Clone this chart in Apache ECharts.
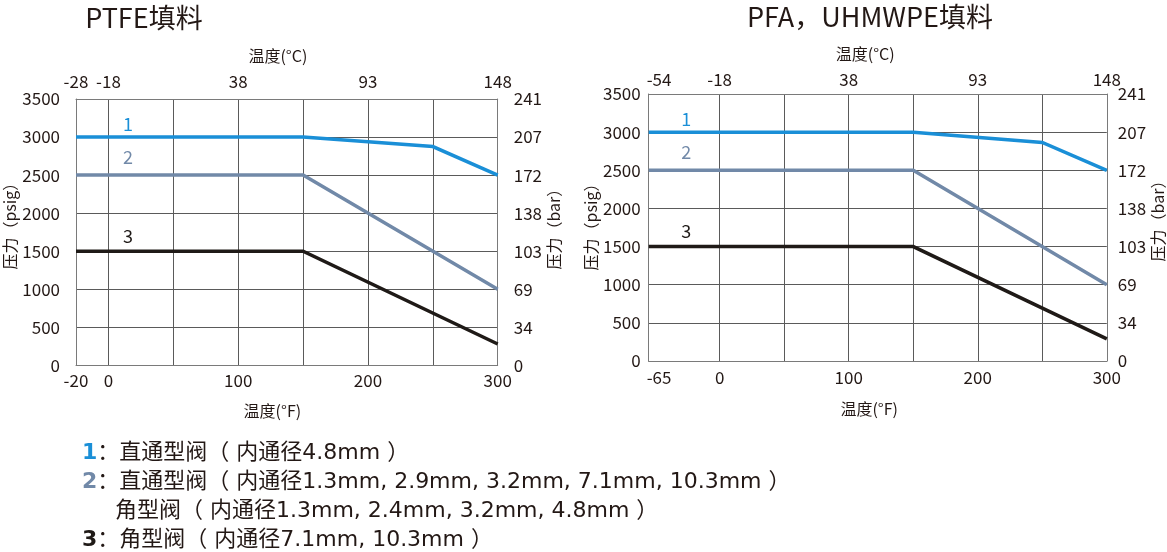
<!DOCTYPE html>
<html><head><meta charset="utf-8">
<script src="https://cdn.jsdelivr.net/npm/echarts@6/dist/echarts.min.js"></script>
<style>html,body{margin:0;padding:0;background:#fff}#c{width:1167px;height:552px}</style>
</head><body><div id="c"></div>
<script>
// ---------- data ----------
const psigTicks = [0, 500, 1000, 1500, 2000, 2500, 3000, 3500];
const psigLabels = ['0', '500', '1000', '1500', '2000', '2500', '3000', '3500'];
const barLabels = ['0', '34', '69', '103', '138', '172', '207', '241'];
const gridLineF = [0, 50, 100, 150, 200, 250, 300];
const fMajor = [0, 100, 200, 300];

const leftEdgeF = -25;           // left border of the PTFE chart (labelled -20)
const rightEdgeF = -55;          // left border of the PFA chart (labelled -65)
const leftFLabels = ['-20', '0', '100', '200', '300'];
const leftCLabels = ['-28', '-18', '38', '93', '148'];
const rightFLabels = ['-65', '0', '100', '200', '300'];
const rightCLabels = ['-54', '-18', '38', '93', '148'];

const ptfeLine1 = [[leftEdgeF, 3000], [150, 3000], [250, 2875], [300, 2500]];
const ptfeLine2 = [[leftEdgeF, 2500], [150, 2500], [300, 1000]];
const ptfeLine3 = [[leftEdgeF, 1500], [150, 1500], [300, 280]];

const pfaLine1 = [[rightEdgeF, 3000], [150, 3000], [250, 2865], [300, 2500]];
const pfaLine2 = [[rightEdgeF, 2500], [150, 2500], [300, 1000]];
const pfaLine3 = [[rightEdgeF, 1500], [150, 1500], [300, 290]];

const titles = ['PTFE填料', 'PFA，UHMWPE填料'];
const seriesNames = ['1', '2', '3'];
const legendLines = [
  ['1', '：直通型阀（ 内通径4.8mm ）'],
  ['2', '：直通型阀（ 内通径1.3mm, 2.9mm, 3.2mm, 7.1mm, 10.3mm ）'],
  ['', '角型阀（ 内通径1.3mm, 2.4mm, 3.2mm, 4.8mm ）'],
  ['3', '：角型阀（ 内通径7.1mm, 10.3mm ）']
];

// ---------- style ----------
const FONT = "'Noto Sans CJK SC', 'Noto Sans', sans-serif";
const LFONT = "'DejaVu Sans', 'Noto Sans CJK SC', sans-serif";
const TXT = '#231815';
const COLORS = ['#1a8fd7', '#7189a8', '#1f1a17'];
const GRIDC = '#5a5a5a', AXC = '#7a7a7a';
const TICK_FS = 17, NAME_FS = 16;

function labelMap(pos, labels) {
  const m = new Map(pos.map((p, i) => [p, labels[i]]));
  return v => (m.has(v) ? m.get(v) : '');
}
const psigFmt = labelMap(psigTicks, psigLabels);
const barFmt = labelMap(psigTicks, barLabels);

const cfg = [
  { edge: leftEdgeF, edgeLab: leftEdgeF, fL: leftFLabels, cL: leftCLabels,
    grid: { left: 76, top: 99, width: 421.7, height: 266.3 },
    botMargin: 7, topMargin: 9, yMargin: 16, ryMargin: 16,
    fNameGap: 38, fNamePad: [0, 29, 0, 0], cNameGap: 35, cNamePad: [0, 18, 0, 0],
    yNameGap: 57, yNamePad: [0, 0, 0, 20], ryNameGap: 47, ryNamePad: [0, 0, 0, 14],
    lines: [ptfeLine1, ptfeLine2, ptfeLine3], tagX: 15 },
  { edge: rightEdgeF, edgeLab: rightEdgeF + 8, fL: rightFLabels, cL: rightCLabels,
    grid: { left: 648.7, top: 94, width: 460, height: 267 },
    botMargin: 8, topMargin: 6, yMargin: 8, ryMargin: 11,
    fNameGap: 40, fNamePad: [0, 17, 0, 0], cNameGap: 32, cNamePad: [0, 25, 0, 0],
    yNameGap: 50, yNamePad: [0, 0, 0, 9], ryNameGap: 43, ryNamePad: [0, 0, 0, 21],
    lines: [pfaLine1, pfaLine2, pfaLine3], tagX: -26 }
];
const tagDist = [4, 9, 6];

const grids = [], xAxes = [], yAxes = [], series = [];
cfg.forEach((c, gi) => {
  grids.push(Object.assign({ containLabel: false }, c.grid));
  const labPos = [c.edgeLab].concat(fMajor);
  const nameStyle = (pad) => ({ fontSize: NAME_FS, color: TXT, fontFamily: FONT, padding: pad });
  const tickStyle = { color: TXT, fontSize: TICK_FS, fontFamily: FONT };
  xAxes.push({
    type: 'value', gridIndex: gi, position: 'bottom', min: c.edge, max: 300,
    axisLine: { show: true, onZero: false, lineStyle: { color: AXC, width: 1 } },
    axisTick: { show: false, customValues: gridLineF },
    splitLine: { show: true, lineStyle: { color: GRIDC, width: 1 } },
    axisLabel: Object.assign({ customValues: labPos, formatter: labelMap(labPos, c.fL),
      margin: c.botMargin, showMinLabel: true, showMaxLabel: true }, tickStyle),
    name: '温度(°F)', nameLocation: 'middle', nameGap: c.fNameGap, nameTextStyle: nameStyle(c.fNamePad)
  });
  xAxes.push({
    type: 'value', gridIndex: gi, position: 'top', min: c.edge, max: 300,
    axisLine: { show: true, onZero: false, lineStyle: { color: AXC, width: 1 } },
    axisTick: { show: false, customValues: gridLineF },
    splitLine: { show: false },
    axisLabel: Object.assign({ customValues: labPos, formatter: labelMap(labPos, c.cL),
      margin: c.topMargin, showMinLabel: true, showMaxLabel: true }, tickStyle),
    name: '温度(°C)', nameLocation: 'middle', nameGap: c.cNameGap, nameTextStyle: nameStyle(c.cNamePad)
  });
  yAxes.push({
    type: 'value', gridIndex: gi, position: 'left', min: 0, max: 3500, interval: 500,
    axisLine: { show: true, onZero: false, lineStyle: { color: AXC, width: 1 } },
    axisTick: { show: false },
    splitLine: { show: true, lineStyle: { color: GRIDC, width: 1 } },
    axisLabel: Object.assign({ margin: c.yMargin, formatter: psigFmt }, tickStyle),
    name: '压力（psig）', nameLocation: 'middle', nameGap: c.yNameGap, nameTextStyle: nameStyle(c.yNamePad)
  });
  yAxes.push({
    type: 'value', gridIndex: gi, position: 'right', min: 0, max: 3500, interval: 500,
    axisLine: { show: true, onZero: false, lineStyle: { color: AXC, width: 1 } },
    axisTick: { show: false },
    splitLine: { show: false },
    axisLabel: Object.assign({ margin: c.ryMargin, formatter: barFmt }, tickStyle),
    name: '压力（bar）', nameLocation: 'middle', nameGap: c.ryNameGap, nameTextStyle: nameStyle(c.ryNamePad)
  });
  c.lines.forEach((data, si) => {
    series.push({
      type: 'line', name: seriesNames[si], xAxisIndex: gi * 2, yAxisIndex: gi * 2,
      data: data, symbol: 'none', silent: true, animation: false,
      lineStyle: { color: COLORS[si], width: 3.5, cap: 'butt', join: 'miter' },
      itemStyle: { color: COLORS[si] },
      markPoint: {
        symbol: 'circle', symbolSize: 0, silent: true, animation: false,
        itemStyle: { color: 'rgba(0,0,0,0)' },
        label: { show: true, position: 'top', distance: tagDist[si], formatter: seriesNames[si],
          color: COLORS[si], fontSize: 18, fontFamily: FONT },
        data: [{ coord: [c.tagX, data[0][1]] }]
      }
    });
  });
});

const graphic = [
  { type: 'text', x: 144, y: 18, style: { text: titles[0], font: "27px " + FONT, fill: TXT, align: 'center', verticalAlign: 'middle' } },
  { type: 'text', x: 870, y: 17, style: { text: titles[1], font: "27px " + FONT, fill: TXT, align: 'center', verticalAlign: 'middle' } }
];
const legendY = [453, 482, 511, 540];
legendLines.forEach((ln, i) => {
  const numColor = ln[0] === '1' ? COLORS[0] : ln[0] === '2' ? COLORS[1] : COLORS[2];
  graphic.push({
    type: 'text', x: ln[0] ? 82 : 115, y: legendY[i],
    style: {
      text: (ln[0] ? '{n|' + ln[0] + '}' : '') + '{t|' + ln[1] + '}',
      verticalAlign: 'middle', align: 'left',
      rich: {
        n: { fontSize: 22, fontWeight: 'bold', fontFamily: LFONT, fill: numColor, color: numColor },
        t: { fontSize: 22, fontFamily: LFONT, fill: TXT, color: TXT }
      }
    }
  });
});

const chart = echarts.init(document.getElementById('c'), null, { renderer: 'canvas' });
chart.setOption({
  backgroundColor: '#fff',
  animation: false,
  grid: grids, xAxis: xAxes, yAxis: yAxes, series: series, graphic: graphic
});
</script></body></html>
